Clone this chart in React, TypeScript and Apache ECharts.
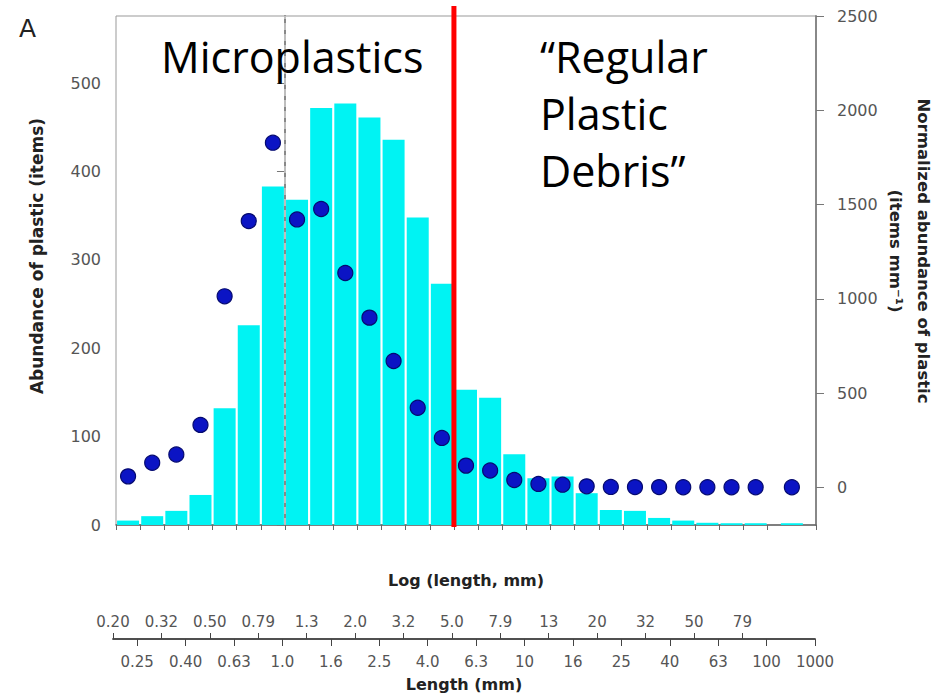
import { useEffect, useRef } from "react";
import * as echarts from "echarts";

// Bin centres on the log10(length, mm) axis (last bin 100–1000 mm is drawn double width)
const binCentersLog = [-0.65, -0.55, -0.45, -0.35, -0.25, -0.15, -0.05, 0.05, 0.15, 0.25, 0.35, 0.45, 0.55, 0.65, 0.75, 0.85, 0.95, 1.05, 1.15, 1.25, 1.35, 1.45, 1.55, 1.65, 1.75, 1.85, 1.95, 2.1];
// Abundance of plastic (items) – bars, left axis
const abundanceItems = [5, 10, 16, 34, 132, 226, 383, 368, 472, 477, 461, 436, 348, 273, 153, 144, 80, 53, 55, 36, 17, 16, 8, 5, 2.5, 2, 2, 2];
// Normalized abundance (items mm^-1) – dots, right axis
const normalizedAbundance = [58, 130, 174, 331, 1013, 1412, 1828, 1421, 1476, 1137, 900, 670, 422, 262, 115, 89, 39, 18, 14, 5, 2, 1, 1, 0, 0, 0, 0, 0];

// Bin edges (ticks of the main axis)
const binEdgesLog = [-0.7, -0.6, -0.5, -0.4, -0.3, -0.2, -0.1, 0, 0.1, 0.2, 0.3, 0.4, 0.5, 0.6, 0.7, 0.8, 0.9, 1.0, 1.1, 1.2, 1.3, 1.4, 1.5, 1.6, 1.7, 1.8, 1.9, 2.0, 2.2];
// Length scale under the chart
const upperTickLogs = [-0.7, -0.5, -0.3, -0.1, 0.1, 0.3, 0.5, 0.7, 0.9, 1.1, 1.3, 1.5, 1.7, 1.9];
const upperTickLabels = ["0.20", "0.32", "0.50", "0.79", "1.3", "2.0", "3.2", "5.0", "7.9", "13", "20", "32", "50", "79"];
const lowerTickLogs = [-0.6, -0.4, -0.2, 0, 0.2, 0.4, 0.6, 0.8, 1.0, 1.2, 1.4, 1.6, 1.8, 2.0, 2.2];
const lowerTickLabels = ["0.25", "0.40", "0.63", "1.0", "1.6", "2.5", "4.0", "6.3", "10", "16", "25", "40", "63", "100", "1000"];

const leftTicks = [0, 100, 200, 300, 400, 500];
const rightTicks = [0, 500, 1000, 1500, 2000, 2500];

const oneMmLog = 0; // dashed line at 1.0 mm
const fiveMmLog = 0.7; // red line at 5.0 mm

const FONT = "DejaVu Sans";

function labelFor(ticks: number[], labels: string[]) {
  return (v: number) => {
    const i = ticks.findIndex((t) => Math.abs(t - v) < 1e-6);
    return i >= 0 ? labels[i] : "";
  };
}

export default function App() {
  const ref = useRef<HTMLDivElement>(null);
  useEffect(() => {
    if (!ref.current) return;
    const chart = echarts.init(ref.current, null, { renderer: "svg" });
    const tickLabelStyle = { fontFamily: FONT, fontSize: 16, color: "#555" };
    const nameStyle = { fontFamily: FONT, fontSize: 16, fontWeight: "bold" as const, color: "#222" };
    chart.setOption({
      animation: false,
      backgroundColor: "#fff",
      grid: [
        { left: 116, right: 132, top: 16, bottom: 169, show: true, borderColor: "#999", borderWidth: 1, outerBoundsMode: "none" },
        { left: 113, right: 133, top: 638, height: 1, outerBoundsMode: "none" },
      ],
      xAxis: [
        {
          type: "value", gridIndex: 0, min: -0.7, max: 2.2,
          axisLine: { show: true, lineStyle: { color: "#666", width: 1.5 } },
          axisTick: { show: true, length: 5, customValues: binEdgesLog, lineStyle: { color: "#666" } },
          axisLabel: { show: false },
          splitLine: { show: false },
          name: "Log (length, mm)", nameLocation: "middle", nameGap: 47, nameMoveOverlap: false,
          nameTextStyle: nameStyle,
        },
        {
          type: "value", gridIndex: 1, position: "top", min: -0.7, max: 2.2,
          axisLine: { show: true, lineStyle: { color: "#444", width: 1.5 } },
          axisTick: { show: true, length: 6, customValues: upperTickLogs, lineStyle: { color: "#444" } },
          axisLabel: { show: true, customValues: upperTickLogs, formatter: labelFor(upperTickLogs, upperTickLabels), margin: 9, ...tickLabelStyle, fontSize: 15 },
          splitLine: { show: false },
        },
        {
          type: "value", gridIndex: 1, position: "bottom", min: -0.7, max: 2.2,
          axisLine: { show: true, lineStyle: { color: "#444", width: 1.5 } },
          axisTick: { show: true, length: 7, customValues: lowerTickLogs, lineStyle: { color: "#444" } },
          axisLabel: { show: true, customValues: lowerTickLogs, formatter: labelFor(lowerTickLogs, lowerTickLabels), margin: 15, ...tickLabelStyle, fontSize: 15 },
          splitLine: { show: false },
          name: "Length (mm)", nameLocation: "middle", nameGap: 37, nameMoveOverlap: false,
          nameTextStyle: nameStyle,
        },
      ],
      yAxis: [
        {
          type: "value", gridIndex: 0, position: "left", min: 0, max: 576,
          axisLine: { show: true, lineStyle: { color: "#888", width: 2 } },
          axisTick: { show: true, length: 8, customValues: leftTicks, lineStyle: { color: "#777" } },
          axisLabel: { show: true, customValues: leftTicks, margin: 15, formatter: (v: number) => String(v), ...tickLabelStyle },
          splitLine: { show: false },
        },
        {
          type: "value", gridIndex: 0, position: "right", min: -200, max: 2500,
          axisLine: { show: true, lineStyle: { color: "#888", width: 2 } },
          axisTick: { show: true, length: 8, customValues: rightTicks, lineStyle: { color: "#777" } },
          axisLabel: { show: true, customValues: rightTicks, margin: 21, formatter: (v: number) => String(v), ...tickLabelStyle },
          splitLine: { show: false },
        },
        { type: "value", gridIndex: 1, show: false, min: 0, max: 1 },
      ],
      series: [
        {
          type: "bar", xAxisIndex: 0, yAxisIndex: 0,
          barWidth: 22,
          data: binCentersLog.map((x, i) => [x, abundanceItems[i]]),
          itemStyle: { color: "#00F3F3" },
          markLine: {
            silent: true, symbol: "none", label: { show: false },
            lineStyle: { color: "#d0d0d0", type: [7, 4], width: 1.5 },
            data: [{ xAxis: oneMmLog }],
          },
        },
        {
          type: "scatter", xAxisIndex: 0, yAxisIndex: 1,
          symbolSize: 15,
          data: binCentersLog.map((x, i) => [x, normalizedAbundance[i]]),
          itemStyle: { color: "#0b14c4", borderColor: "#050a70", borderWidth: 1.2, opacity: 1 },
        },
      ],
    });
    const redX = chart.convertToPixel({ xAxisIndex: 0 }, fiveMmLog) as number;
    const txt = { fontFamily: "Open Sans", fontSize: 43, fill: "#000" };
    chart.setOption({
      graphic: [
        { type: "line", shape: { x1: redX, y1: 6, x2: redX, y2: 527 }, style: { stroke: "#ff0000", lineWidth: 5 }, z: 100 },
        { type: "text", left: 19, top: 16, style: { text: "A", fontFamily: FONT, fontSize: 25, fill: "#222" }, z: 100 },
        { type: "text", x: 161, y: 35, style: { text: "Microplastics", ...txt, textVerticalAlign: "top" }, z: 100 },
        { type: "text", x: 540, y: 28, style: { text: "“Regular\nPlastic\nDebris”", ...txt, lineHeight: 57, textVerticalAlign: "top" }, z: 100 },
        {
          type: "text", x: 37, y: 256, rotation: Math.PI / 2,
          style: { text: "Abundance of plastic (items)", fontFamily: FONT, fontSize: 17, fontWeight: "bold", fill: "#222", align: "center", verticalAlign: "middle" },
          z: 100,
        },
        {
          type: "text", x: 909, y: 251, rotation: -Math.PI / 2,
          style: { text: "Normalized abundance of plastic\n(items mm⁻¹)", fontFamily: FONT, fontSize: 16.5, fontWeight: "bold", fill: "#222", align: "center", verticalAlign: "middle", lineHeight: 28 },
          z: 100,
        },
      ],
    });
    return () => chart.dispose();
  }, []);
  return <div ref={ref} style={{ position: "fixed", left: 0, top: 0, width: 948, height: 694 }} />;
}
